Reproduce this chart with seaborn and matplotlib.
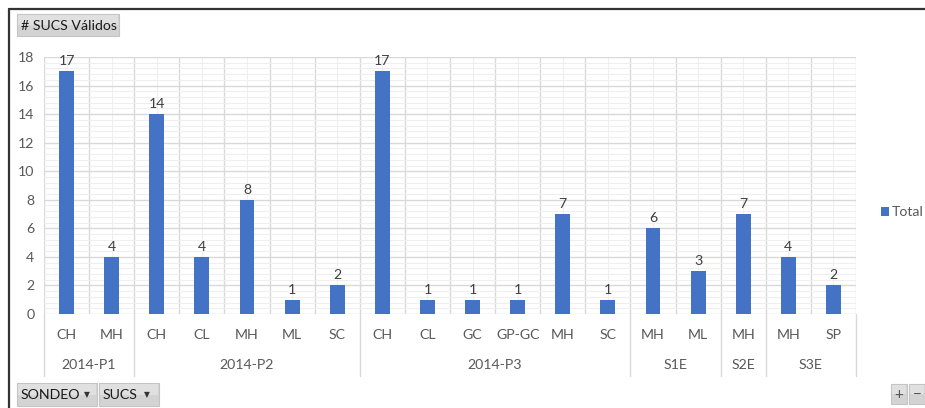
import numpy as np
import pandas as pd
import matplotlib
matplotlib.use("Agg")
import matplotlib.pyplot as plt
from matplotlib.patches import Rectangle
from matplotlib.lines import Line2D
from matplotlib.ticker import MultipleLocator
import seaborn as sns

# Pivot data: count of valid SUCS classifications per borehole (SONDEO) and soil class (SUCS)
sondeos = ["2014-P1", "2014-P1",
           "2014-P2", "2014-P2", "2014-P2", "2014-P2", "2014-P2",
           "2014-P3", "2014-P3", "2014-P3", "2014-P3", "2014-P3", "2014-P3",
           "S1E", "S1E", "S2E", "S3E", "S3E"]
sucs = ["CH", "MH",
        "CH", "CL", "MH", "ML", "SC",
        "CH", "CL", "GC", "GP-GC", "MH", "SC",
        "MH", "ML", "MH", "MH", "SP"]
totales = [17, 4, 14, 4, 8, 1, 2, 17, 1, 1, 1, 7, 1, 6, 3, 7, 4, 2]

sns.set_theme(style="white")
plt.rcParams["font.family"] = ["Lato", "DejaVu Sans"]

W, H = 925, 408
FS = 10.2
fig = plt.figure(figsize=(W / 100, H / 100), dpi=100)
fig.patch.set_facecolor("white")


def fx(px):
    return px / W


def fy(py):
    return 1 - py / H


left, right, top, bottom = 44, 856, 57, 314
ax = fig.add_axes([fx(left), fy(bottom), fx(right - left), fy(top) - fy(bottom)])

df = pd.DataFrame({"pos": [f"{s}|{c}|{i}" for i, (s, c) in enumerate(zip(sondeos, sucs))],
                   "Total": totales})
sns.barplot(data=df, x="pos", y="Total", color="#4472C4", width=0.33,
            saturation=1, linewidth=0, edgecolor="none", ax=ax, zorder=3)

n = len(totales)
ax.set_xlim(-0.5, n - 0.5)
ax.set_ylim(0, 18)
ax.set_xlabel("")
ax.set_ylabel("")
for s in ax.spines.values():
    s.set_visible(False)

# Gridlines: category boundaries as major, category centres as minor
ax.set_xticks(np.arange(-0.5, n, 1.0))
ax.set_xticks(np.arange(0, n, 1.0), minor=True)
ax.set_xticklabels([])
ax.yaxis.set_major_locator(MultipleLocator(2))
ax.yaxis.set_minor_locator(MultipleLocator(0.4))
ax.grid(which="major", color="#D9D9D9", linewidth=1.0, zorder=0)
ax.grid(which="minor", color="#EFEFEF", linewidth=0.8, zorder=0)
ax.set_axisbelow(True)
ax.tick_params(axis="both", which="both", length=0, bottom=False, top=False,
               left=False, right=False)
ax.tick_params(axis="y", labelsize=FS, labelcolor="#595959", pad=7)
ax.tick_params(axis="x", which="both", labelbottom=False)

# Value labels above the bars
for i, v in enumerate(totales):
    ax.annotate(str(v), (i, v), xytext=(0, 3), textcoords="offset points",
                ha="center", va="bottom", fontsize=FS, color="#404040")

# Multi-level category axis
tr = ax.get_xaxis_transform()
axh = bottom - top
for i, c in enumerate(sucs):
    ax.text(i, -(335 - bottom) / axh, c, transform=tr, ha="center", va="center",
            fontsize=FS, color="#595959", clip_on=False)

groups = []
for i, s in enumerate(sondeos):
    if not groups or groups[-1][0] != s:
        groups.append([s, i, i])
    else:
        groups[-1][2] = i
edges = [-0.5] + [g[2] + 0.5 for g in groups]
for g in groups:
    ax.text((g[1] + g[2]) / 2, -(365 - bottom) / axh, g[0], transform=tr,
            ha="center", va="center", fontsize=FS, color="#595959", clip_on=False)
for e in edges:
    ax.add_line(Line2D([e, e], [0, -(376 - bottom) / axh], transform=tr,
                       color="#D9D9D9", linewidth=1.0, clip_on=False))

# Legend
fig.add_artist(Rectangle((fx(881), fy(216)), fx(8), fy(207) - fy(216),
                         transform=fig.transFigure, facecolor="#4472C4", edgecolor="none"))
fig.text(fx(892), fy(211.5), "Total", ha="left", va="center", fontsize=FS, color="#595959")

# Chart frame
fig.add_artist(Line2D([fx(9), fx(925)], [fy(9), fy(9)], transform=fig.transFigure,
                      color="#333333", linewidth=1.6))
fig.add_artist(Line2D([fx(9), fx(9)], [fy(9), fy(408)], transform=fig.transFigure,
                      color="#333333", linewidth=1.6))


def button(x0, y0, x1, y1, text, fs=FS, ha="left", pad=4, arrow_x=None):
    fig.add_artist(Rectangle((fx(x0), fy(y1)), fx(x1 - x0), fy(y0) - fy(y1),
                             transform=fig.transFigure, facecolor="#D3D3D3",
                             edgecolor="#C4C4C4", linewidth=0.8))
    fig.add_artist(Rectangle((fx(x0 + 1), fy((y0 + y1) / 2)), fx(x1 - x0 - 2),
                             fy(y0 + 1) - fy((y0 + y1) / 2),
                             transform=fig.transFigure, facecolor="#E0E0E0",
                             edgecolor="none"))
    ym = fy((y0 + y1) / 2 + 0.5)
    if ha == "left":
        fig.text(fx(x0 + pad), ym, text, ha="left", va="center",
                 fontsize=fs, color="#1A1A1A")
    else:
        fig.text(fx((x0 + x1) / 2), ym, text, ha="center",
                 va="center", fontsize=fs, color="#555555")
    if arrow_x is not None:
        fig.text(fx(arrow_x), ym, "▼", ha="center", va="center",
                 fontsize=5.5, color="#333333")


button(17, 14, 119, 36, "# SUCS Válidos", fs=10.2)
button(17, 383, 97, 406, "SONDEO", fs=10.2, arrow_x=87)
button(99, 383, 159, 406, "SUCS", fs=10.2, arrow_x=147)
button(891, 384, 907, 404, "+", fs=11, ha="center")
button(909, 384, 925, 404, "−", fs=11, ha="center")

fig.savefig("out.png", dpi=100, facecolor="white")
